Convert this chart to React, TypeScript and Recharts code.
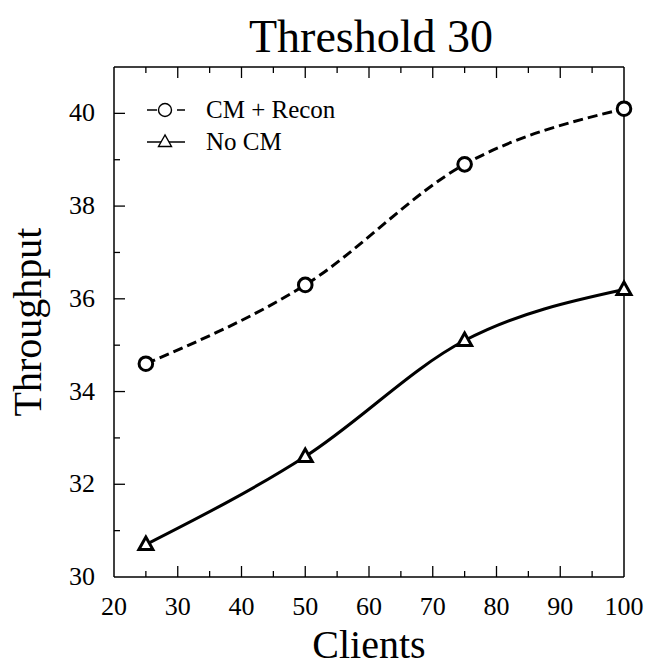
import { Legend, Line, LineChart, XAxis, YAxis } from "recharts";

const clients = [25, 50, 75, 100];
const cmRecon = [34.6, 36.3, 38.9, 40.1];
const noCm = [30.7, 32.6, 35.1, 36.2];

const xTicks = [20, 25, 30, 35, 40, 45, 50, 55, 60, 65, 70, 75, 80, 85, 90, 95, 100];
const xLabels = [20, 30, 40, 50, 60, 70, 80, 90, 100];
const yTicks = [30, 31, 32, 33, 34, 35, 36, 37, 38, 39, 40];
const yLabels = [30, 32, 34, 36, 38, 40];

const data = clients.map((c, i) => ({ clients: c, cm: cmRecon[i], nocm: noCm[i] }));

const FONT = "Liberation Serif, DejaVu Serif, serif";
const INK = "#000";
const serif = { fontFamily: FONT };

type Side = "bottom" | "top" | "left" | "right";

function makeTick(side: Side, ticks: number[], labels: number[], withLabel: boolean) {
  const first = ticks[0];
  const last = ticks[ticks.length - 1];
  return (props: any) => {
    const { x, y, payload } = props;
    const v = payload.value;
    const len = labels.includes(v) ? 11 : 6;
    const edge = side === "bottom" || side === "top" ? v === first || v === last : v === first;
    let x2 = x;
    let y2 = y;
    if (side === "bottom") y2 = y - len;
    if (side === "top") y2 = y + len;
    if (side === "left") x2 = x + len;
    if (side === "right") x2 = x - len;
    return (
      <g>
        {!edge && <line x1={x} y1={y} x2={x2} y2={y2} stroke={INK} strokeWidth={1.3} />}
        {withLabel && labels.includes(v) && side === "bottom" && (
          <text x={x} y={y + 38} textAnchor="middle" fontSize={26} style={serif} fill={INK}>
            {v}
          </text>
        )}
        {withLabel && labels.includes(v) && side === "left" && (
          <text x={x - 19} y={y + 8} textAnchor="end" fontSize={26} style={serif} fill={INK}>
            {v}
          </text>
        )}
      </g>
    );
  };
}

const CircleDot = (props: any) => {
  const { cx, cy, index } = props;
  return <circle key={`c${index}`} cx={cx} cy={cy} r={6.8} fill="#fff" stroke={INK} strokeWidth={3} />;
};

const TriangleDot = (props: any) => {
  const { cx, cy, index } = props;
  return (
    <path
      key={`t${index}`}
      d={`M${cx},${cy - 7.5} L${cx - 7},${cy + 5} L${cx + 7},${cy + 5} Z`}
      fill="#fff"
      stroke={INK}
      strokeWidth={3}
      strokeLinejoin="miter"
    />
  );
};

const LegendBox = () => (
  <svg width={230} height={70} style={{ display: "block" }}>
    <line x1={7} y1={18} x2={45} y2={18} stroke={INK} strokeWidth={1.4} strokeDasharray="10 5" />
    <circle cx={25} cy={18} r={6.5} fill="#fff" stroke={INK} strokeWidth={1.4} />
    <text x={66} y={26} fontSize={25} style={serif} fill={INK}>
      CM + Recon
    </text>
    <line x1={7} y1={50} x2={45} y2={50} stroke={INK} strokeWidth={1.4} />
    <path d="M25,43 L18.5,54.5 L31.5,54.5 Z" fill="#fff" stroke={INK} strokeWidth={1.4} />
    <text x={66} y={58} fontSize={25} style={serif} fill={INK}>
      No CM
    </text>
  </svg>
);

export default function App() {
  return (
    <div style={{ position: "absolute", left: 0, top: 0, width: 649, height: 671, background: "#fff" }}>
      <LineChart width={649} height={671} data={data} margin={{ top: 66, right: 24, bottom: 0, left: 0 }}>
        <XAxis
          xAxisId="b"
          dataKey="clients"
          type="number"
          domain={[20, 100]}
          ticks={xTicks}
          interval={0}
          height={94}
          tickSize={0}
          tickMargin={0}
          axisLine={{ stroke: INK, strokeWidth: 1.5 }}
          tickLine={false}
          tick={makeTick("bottom", xTicks, xLabels, true)}
          label={(p: any) => {
            const vb = p.viewBox;
            return (
              <text x={vb.x + vb.width / 2} y={658} textAnchor="middle" fontSize={40} style={serif} fill={INK}>
                Clients
              </text>
            );
          }}
        />
        <XAxis
          xAxisId="t"
          orientation="top"
          dataKey="clients"
          type="number"
          domain={[20, 100]}
          ticks={xTicks}
          interval={0}
          height={1}
          tickSize={0}
          tickMargin={0}
          axisLine={{ stroke: INK, strokeWidth: 1.5 }}
          tickLine={false}
          tick={makeTick("top", xTicks, xLabels, false)}
        />
        <YAxis
          yAxisId="l"
          type="number"
          domain={[30, 41]}
          ticks={yTicks}
          interval={0}
          width={114}
          tickSize={0}
          tickMargin={0}
          axisLine={{ stroke: INK, strokeWidth: 1.5 }}
          tickLine={false}
          tick={makeTick("left", yTicks, yLabels, true)}
          label={(p: any) => {
            const vb = p.viewBox;
            const cy = vb.y + vb.height / 2;
            return (
              <text
                x={41}
                y={cy}
                transform={`rotate(-90 41 ${cy})`}
                textAnchor="middle"
                fontSize={40}
                style={serif}
                fill={INK}
              >
                Throughput
              </text>
            );
          }}
        />
        <YAxis
          yAxisId="r"
          orientation="right"
          type="number"
          domain={[30, 41]}
          ticks={yTicks}
          interval={0}
          width={1}
          tickSize={0}
          tickMargin={0}
          axisLine={{ stroke: INK, strokeWidth: 1.5 }}
          tickLine={false}
          tick={makeTick("right", yTicks, yLabels, false)}
        />
        <Legend
          layout="vertical"
          align="center"
          verticalAlign="middle"
          content={LegendBox}
          wrapperStyle={{ left: 140, top: 92, width: 230 }}
        />
        <Line
          xAxisId="b"
          yAxisId="l"
          type="monotone"
          dataKey="cm"
          name="CM + Recon"
          stroke={INK}
          strokeWidth={3}
          strokeDasharray="10 5"
          dot={CircleDot}
          activeDot={false}
          isAnimationActive={false}
        />
        <Line
          xAxisId="b"
          yAxisId="l"
          type="monotone"
          dataKey="nocm"
          name="No CM"
          stroke={INK}
          strokeWidth={3}
          dot={TriangleDot}
          activeDot={false}
          isAnimationActive={false}
        />
      </LineChart>
      <svg width={649} height={64} style={{ position: "absolute", left: 0, top: 0, pointerEvents: "none" }}>
        <text x={371} y={52} textAnchor="middle" fontSize={46} style={serif} fill={INK}>
          Threshold 30
        </text>
      </svg>
    </div>
  );
}
